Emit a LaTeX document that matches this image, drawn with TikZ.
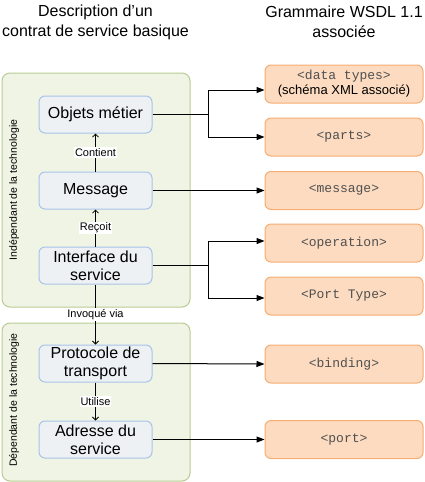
\documentclass[tikz,border=0pt]{standalone}
\usepackage{fontspec}
\setmainfont{Liberation Sans}
\setmonofont{Liberation Mono}
\usetikzlibrary{arrows.meta, positioning}
\definecolor{ZoneFill}{HTML}{F0F4E5}
\definecolor{ZoneLine}{HTML}{B8CC92}
\definecolor{ConceptFill}{HTML}{EDF1F3}
\definecolor{ConceptLine}{HTML}{A9C4E9}
\definecolor{WsdlFill}{HTML}{FCDBC0}
\definecolor{WsdlLine}{HTML}{F6AE72}
\definecolor{MonoGray}{HTML}{505050}

\begin{document}
\begin{tikzpicture}[x=1pt, y=-1pt,
  zone/.style={rectangle, rounded corners=8pt, fill=ZoneFill, draw=ZoneLine, line width=1pt, minimum width=188pt, inner sep=0pt},
  concept/.style={rectangle, rounded corners=6pt, fill=ConceptFill, draw=ConceptLine, line width=1pt, minimum width=113pt, minimum height=37pt, align=center, font=\fontsize{16}{18}\selectfont, inner sep=0pt},
  wsdl/.style={rectangle, rounded corners=6pt, fill=WsdlFill, draw=WsdlLine, line width=1pt, minimum width=158pt, minimum height=38pt, align=center, font=\fontsize{13}{15}\selectfont\ttfamily, text=MonoGray, inner sep=0pt},
  rel/.style={font=\fontsize{11}{13}\selectfont, fill=white, inner sep=1pt},
  side/.style={font=\fontsize{10.5}{12}\selectfont, rotate=90},
  title/.style={font=\fontsize{16}{20}\selectfont, align=center},
  link/.style={-{Triangle[length=8pt,width=6pt]}, line width=1pt},
  up/.style={-{Straight Barb[length=3pt,width=6pt]}, line width=0.8pt},
]
  \useasboundingbox (0,0) rectangle (425,482);

  % titles
  \node[title] (left title) at (95.5,22) {Description d’un\\contrat de service basique};
  \node[title] (right title) at (344,22) {Grammaire WSDL 1.1\\associée};

  % technology zones
  \node[zone, minimum height=234pt] (indep) at (96,190) {};
  \node[zone, minimum height=158pt] (dep) at (96,402) {};
  \node[side] (indep label) at (14,190) {Indépendant de la technologie};
  \node[side] (dep label) at (14,400) {Dépendant de la technologie};

  % service contract
  \node[concept] (objets) at (95.5,114.5) {Objets métier};
  \node[concept] (message) at (95.5,190.5) {Message};
  \node[concept] (interface) at (95.5,265.5) {Interface du\\service};
  \node[concept] (protocole) at (95.5,363.5) {Protocole de\\transport};
  \node[concept] (adresse) at (95.5,439.5) {Adresse du\\service};

  % WSDL grammar
  \node[wsdl] (types) at (344,84) {<data types>\\{\rmfamily\color{black}(schéma XML associé)}};
  \node[wsdl] (parts) at (344,137) {<parts>};
  \node[wsdl] (msg) at (344,190.5) {<message>};
  \node[wsdl] (operation) at (344,243) {<operation>};
  \node[wsdl] (porttype) at (344,296) {<Port Type>};
  \node[wsdl] (binding) at (344,364) {<binding>};
  \node[wsdl] (port) at (344,439.5) {<port>};

  % relations
  \draw[up] (message) -- node[rel] {Contient} (objets);
  \draw[up] (interface) -- node[rel] {Reçoit} (message);
  \draw[up] (interface) -- node[rel] {Invoqué via} (protocole);
  \draw[up] (protocole) -- node[rel] {Utilise} (adresse);

  % mapping to WSDL
  \coordinate (j1) at ([xshift=56pt]objets.east);
  \coordinate (j2) at ([xshift=56pt]interface.east);
  \draw[line width=1pt] (objets.east) -- (j1);
  \draw[link] (j1) |- ([yshift=-6pt]types.west);
  \draw[link] (j1) |- (parts.west);
  \draw[link] (message.east) -- (msg.west);
  \draw[line width=1pt] (interface.east) -- (j2);
  \draw[link] (j2) |- ([yshift=2pt]operation.west);
  \draw[link] (j2) |- ([yshift=-2pt]porttype.west);
  \draw[link] (protocole.east) -- (binding.west);
  \draw[link] (adresse.east) -- (port.west);
\end{tikzpicture}
\end{document}
